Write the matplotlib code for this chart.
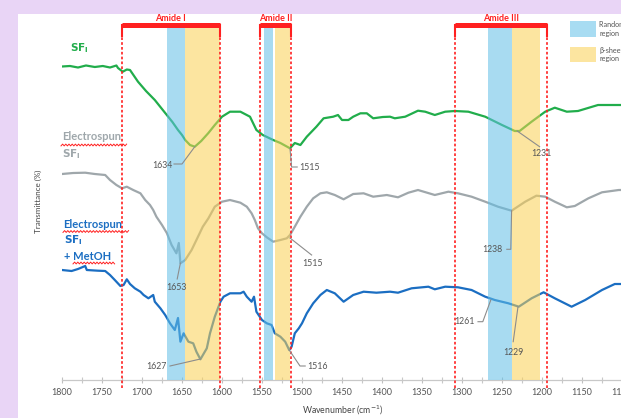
import numpy as np
import matplotlib
matplotlib.use("Agg")
import matplotlib.pyplot as plt
from matplotlib.patches import Rectangle
from matplotlib.lines import Line2D

plt.rcParams['font.family'] = ['Lato', 'DejaVu Sans']

# ---- spectra (wavenumber in cm-1, transmittance in arbitrary stacked units)
sf_wn = [1800, 1790, 1780, 1770, 1759, 1749, 1740, 1732, 1730, 1724, 1719, 1715,
         1705, 1695, 1684, 1676, 1669, 1662, 1655, 1650, 1646, 1640, 1634, 1626,
         1617, 1609, 1600, 1590, 1577, 1565, 1557, 1549, 1536, 1527, 1515, 1509,
         1502, 1494, 1482, 1473, 1461, 1455, 1450, 1442, 1436, 1427, 1419, 1411,
         1399, 1390, 1384, 1371, 1355, 1346, 1334, 1321, 1309, 1292, 1271, 1250,
         1234, 1228, 1213, 1196, 1184, 1169, 1155, 1130, 1101, 1050]
sf_t = [313.5, 314, 312.5, 314.5, 313, 314, 312.5, 314.5, 312, 308.3, 310.5, 310,
        298.3, 289, 280, 272, 265, 258, 250, 245, 240, 235, 233.3, 239,
        247, 255, 263.3, 268.3, 268.3, 263.3, 250, 245, 240, 237, 231.7, 237,
        235, 243.3, 253.3, 261.7, 263.3, 265, 260, 260, 263.3, 266.7, 266.7, 261.7,
        263, 263.3, 261.7, 263.3, 269.3, 268.3, 265, 268.3, 269, 268.3, 263.3, 255,
        249, 249, 258.3, 268.3, 272.3, 268.3, 269, 275, 275, 275]

es_wn = [1800, 1786, 1771, 1759, 1746, 1740, 1732, 1725, 1719, 1711, 1702, 1696,
         1690, 1686, 1682, 1675, 1669, 1663, 1657, 1654, 1652, 1646, 1638, 1630,
         1624, 1617, 1609, 1600, 1590, 1577, 1569, 1563, 1559, 1555, 1550, 1544,
         1536, 1527, 1519, 1515, 1509, 1502, 1494, 1486, 1477, 1469, 1459, 1448,
         1436, 1423, 1411, 1394, 1380, 1367, 1355, 1334, 1317, 1305, 1288, 1271,
         1255, 1238, 1221, 1207, 1196, 1184, 1169, 1159, 1142, 1125, 1104, 1050]
es_t = [206, 207, 207.3, 206, 205, 200, 195, 191.7, 193.3, 190, 186.7, 180,
        175, 170, 163.3, 155, 147, 135, 126.7, 137, 116.7, 120, 130, 143.3,
        153.3, 161.7, 173.3, 178.3, 180, 177.3, 173.3, 166.7, 160, 151.7, 146.7, 142.7,
        138.3, 140, 141.7, 145, 153.3, 163.3, 173.3, 181.7, 186.7, 187.7, 185, 180.7,
        186, 186.7, 183.3, 185, 182.7, 187.3, 190, 185, 188.3, 186.7, 183.3, 178.3,
        173.3, 169.3, 178.3, 184.3, 183.3, 178.3, 172.7, 174, 181.7, 187.7, 190, 190]

me_wn = [1800, 1788, 1780, 1771, 1769, 1755, 1746, 1740, 1734, 1727, 1723, 1719,
         1715, 1709, 1702, 1698, 1692, 1686, 1684, 1677, 1671, 1665, 1659, 1655,
         1652, 1648, 1642, 1636, 1632, 1627, 1619, 1615, 1609, 1602, 1598, 1590,
         1577, 1573, 1569, 1563, 1560, 1557, 1550, 1544, 1538, 1534, 1527, 1521,
         1516, 1513, 1509, 1504, 1500, 1494, 1486, 1477, 1469, 1459, 1448, 1436,
         1423, 1407, 1390, 1380, 1363, 1342, 1334, 1321, 1305, 1288, 1271, 1259,
         1242, 1229, 1213, 1198, 1184, 1163, 1146, 1125, 1109, 1050]
me_t = [110, 109, 111, 114, 110, 109.3, 109, 105, 100, 94, 95, 100.7,
        96, 91.7, 88.3, 85, 81.7, 85, 78.3, 71.7, 65, 56.7, 50, 62,
        38.3, 46.7, 38.3, 36.7, 28.3, 20.7, 31.7, 46.7, 63.3, 78.3, 83.3, 86.7,
        86.7, 88.3, 83.3, 78.3, 83.3, 68.3, 60, 56.7, 55, 46.7, 43.3, 38.3,
        30, 33.3, 46.7, 51.7, 56.7, 66.7, 76.7, 85, 90, 86.7, 78.3, 85,
        88.3, 87.3, 88.3, 87.3, 91.7, 93.3, 90.7, 93.3, 92.7, 90, 83.3, 80,
        76.7, 73.3, 81.7, 87.7, 81.7, 73.3, 80, 90, 96, 96]

# ---- regions
amide_names = ["Amide I", "Amide II", "Amide III"]
amide_lo = [1725, 1552, 1309]
amide_hi = [1603, 1514, 1194]
coil_lo = [1669, 1547, 1267]
coil_hi = [1646, 1536, 1238]
sheet_lo = [1646, 1534, 1238]
sheet_hi = [1603, 1515, 1202]

# ---- peak annotations: (label, leader x, leader y, text x, text y, ha)
peaks = [
    ("1634", [1634, 1650, 1660], [233.3, 216, 216], 1662, 215, 'right'),
    ("1515", [1515, 1513, 1506], [231.7, 213, 213], 1504, 213, 'left'),
    ("1231", [1231, 1203], [249, 233.3], 1201, 226.5, 'center'),
    ("1653", [1652, 1656], [117, 101], 1657.5, 92, 'center'),
    ("1515", [1515, 1488], [142, 125], 1487, 116, 'center'),
    ("1627", [1627, 1665], [21, 14], 1669, 13.5, 'right'),
    ("1516", [1516, 1502.5, 1496], [30, 14, 14], 1493, 13.5, 'left'),
    ("1238", [1238, 1239, 1244], [169.3, 130.7, 130.7], 1249, 130.5, 'right'),
    ("1261", [1264, 1274, 1280], [80, 58.3, 58.3], 1284, 58, 'right'),
    ("1229", [1230, 1236], [73.3, 38.3], 1236, 27.5, 'center'),
]

green = '#21ad4b'
grey = '#9fa7ab'
blue = '#1b6ec2'
red = '#ff2020'
coil_c = '#61bfe7'
sheet_c = '#fad052'

W, H = 621, 418
fig = plt.figure(figsize=(W / 100, H / 100), dpi=100)
fig.patch.set_facecolor('#e9d5f6')
fig.add_artist(Rectangle((18 / W, 0), 1, 1 - 14 / H, transform=fig.transFigure,
                         facecolor='white', edgecolor='none', zorder=0))

ax = fig.add_axes([62 / W, 38 / H, 600 / W, 366 / H])
ax.set_facecolor('none')
ax.set_xlim(1800, 1050)
ax.set_ylim(0, 366)

ax.plot(sf_wn, sf_t, color=green, lw=1.6, zorder=2)
ax.plot(es_wn, es_t, color=grey, lw=1.6, zorder=2)
ax.plot(me_wn, me_t, color=blue, lw=1.6, zorder=2)

for lo, hi in zip(coil_lo, coil_hi):
    ax.fill_between([lo, hi], 0, 352, color=coil_c, alpha=0.55, lw=0, zorder=3)
for lo, hi in zip(sheet_lo, sheet_hi):
    ax.fill_between([lo, hi], 0, 352, color=sheet_c, alpha=0.55, lw=0, zorder=3)

for name, lo, hi in zip(amide_names, amide_lo, amide_hi):
    for xv in (lo, hi):
        ax.plot([xv, xv], [-8, 352], color=red, lw=1.2, ls=(0, (1.6, 1.3)),
                zorder=4, clip_on=False)
    ax.plot([lo, lo, hi, hi], [344, 355, 355, 344], color=red, lw=1.5,
            zorder=5, clip_on=False, solid_joinstyle='miter')
    ax.plot([lo, hi], [355, 355], color=red, lw=3.6, zorder=5,
            solid_capstyle='butt', clip_on=False)
    ax.text((lo + hi) / 2, 361.5, name, color=red, fontsize=6.5,
            fontweight='bold', ha='center', va='center', clip_on=False)

for lab, px, py, tx, ty, ha in peaks:
    ax.plot(px, py, color='#8c8c8c', lw=0.8, zorder=6)
    ax.text(tx, ty, lab, fontsize=6.3, color='#555555', ha=ha, va='center')

# curve labels
ax.text(1790, 332, r"$\mathbf{SF_{I}}$", color=green, fontsize=7.5, va='center')
ax.text(1800, 243.5, "Electrospun", color=grey, fontsize=8,
        fontweight='bold', va='center')
ax.text(1800, 226, r"$\mathbf{SF_{I}}$", color=grey, fontsize=7.5, va='center')
ax.text(1798, 156, "Electrospun", color=blue, fontsize=8,
        fontweight='bold', va='center')
ax.text(1798, 139.5, r"$\mathbf{SF_{I}}$", color=blue, fontsize=7.5, va='center')
ax.text(1798, 123.5, "+ MetOH", color=blue, fontsize=8,
        fontweight='bold', va='center')


def squiggle(x0, x1, y):
    xs = np.arange(x0, x1, 1.6)
    ys = y + np.where(np.arange(len(xs)) % 2 == 0, 0.9, -0.9)
    fig.add_artist(Line2D(xs / W, 1 - ys / H, transform=fig.transFigure,
                          color=red, lw=0.7))


squiggle(61, 127, 145)
squiggle(63, 130, 231.5)
squiggle(73, 116, 263)

# axis styling
for s in ('left', 'top', 'right'):
    ax.spines[s].set_visible(False)
ax.spines['bottom'].set_color('#c8c8c8')
ax.spines['bottom'].set_linewidth(0.9)
ax.set_yticks([])
ax.set_xticks(np.arange(1800, 1049, -50))
ax.set_xticks(np.arange(1775, 1049, -50), minor=True)
ax.tick_params(axis='x', which='major', direction='inout', length=5,
               width=0.8, color='#c0c0c0', labelsize=6.5,
               labelcolor='#555555', pad=3.5)
ax.tick_params(axis='x', which='minor', direction='inout', length=4,
               width=0.8, color='#c8c8c8')
ax.set_xlabel("Wavenumber (cm$^{-1}$)", fontsize=6.3, color='#444444')
ax.xaxis.set_label_coords(0.468, -0.066)
fig.text(38 / W, 1 - 201 / H, "Transmittance (%)", rotation=90, fontsize=5.8,
         color='#444444', ha='center', va='center')

# legend (cut by the frame edge as in the original)
fig.add_artist(Rectangle((570 / W, 1 - 37 / H), 26 / W, 16 / H,
                         transform=fig.transFigure, facecolor='#a8dcf2',
                         edgecolor='none'))
fig.add_artist(Rectangle((570 / W, 1 - 62 / H), 26 / W, 15 / H,
                         transform=fig.transFigure, facecolor='#fce5a0',
                         edgecolor='none'))
fig.text(599 / W, 1 - 29 / H, "Random coil\nregion", fontsize=5.2,
         color='#555555', va='center', linespacing=1.3)
fig.text(599 / W, 1 - 54.5 / H, "\u03b2-sheet\nregion", fontsize=5.2,
         color='#555555', va='center', linespacing=1.3)

fig.savefig("out.png", dpi=100, facecolor=fig.get_facecolor())
